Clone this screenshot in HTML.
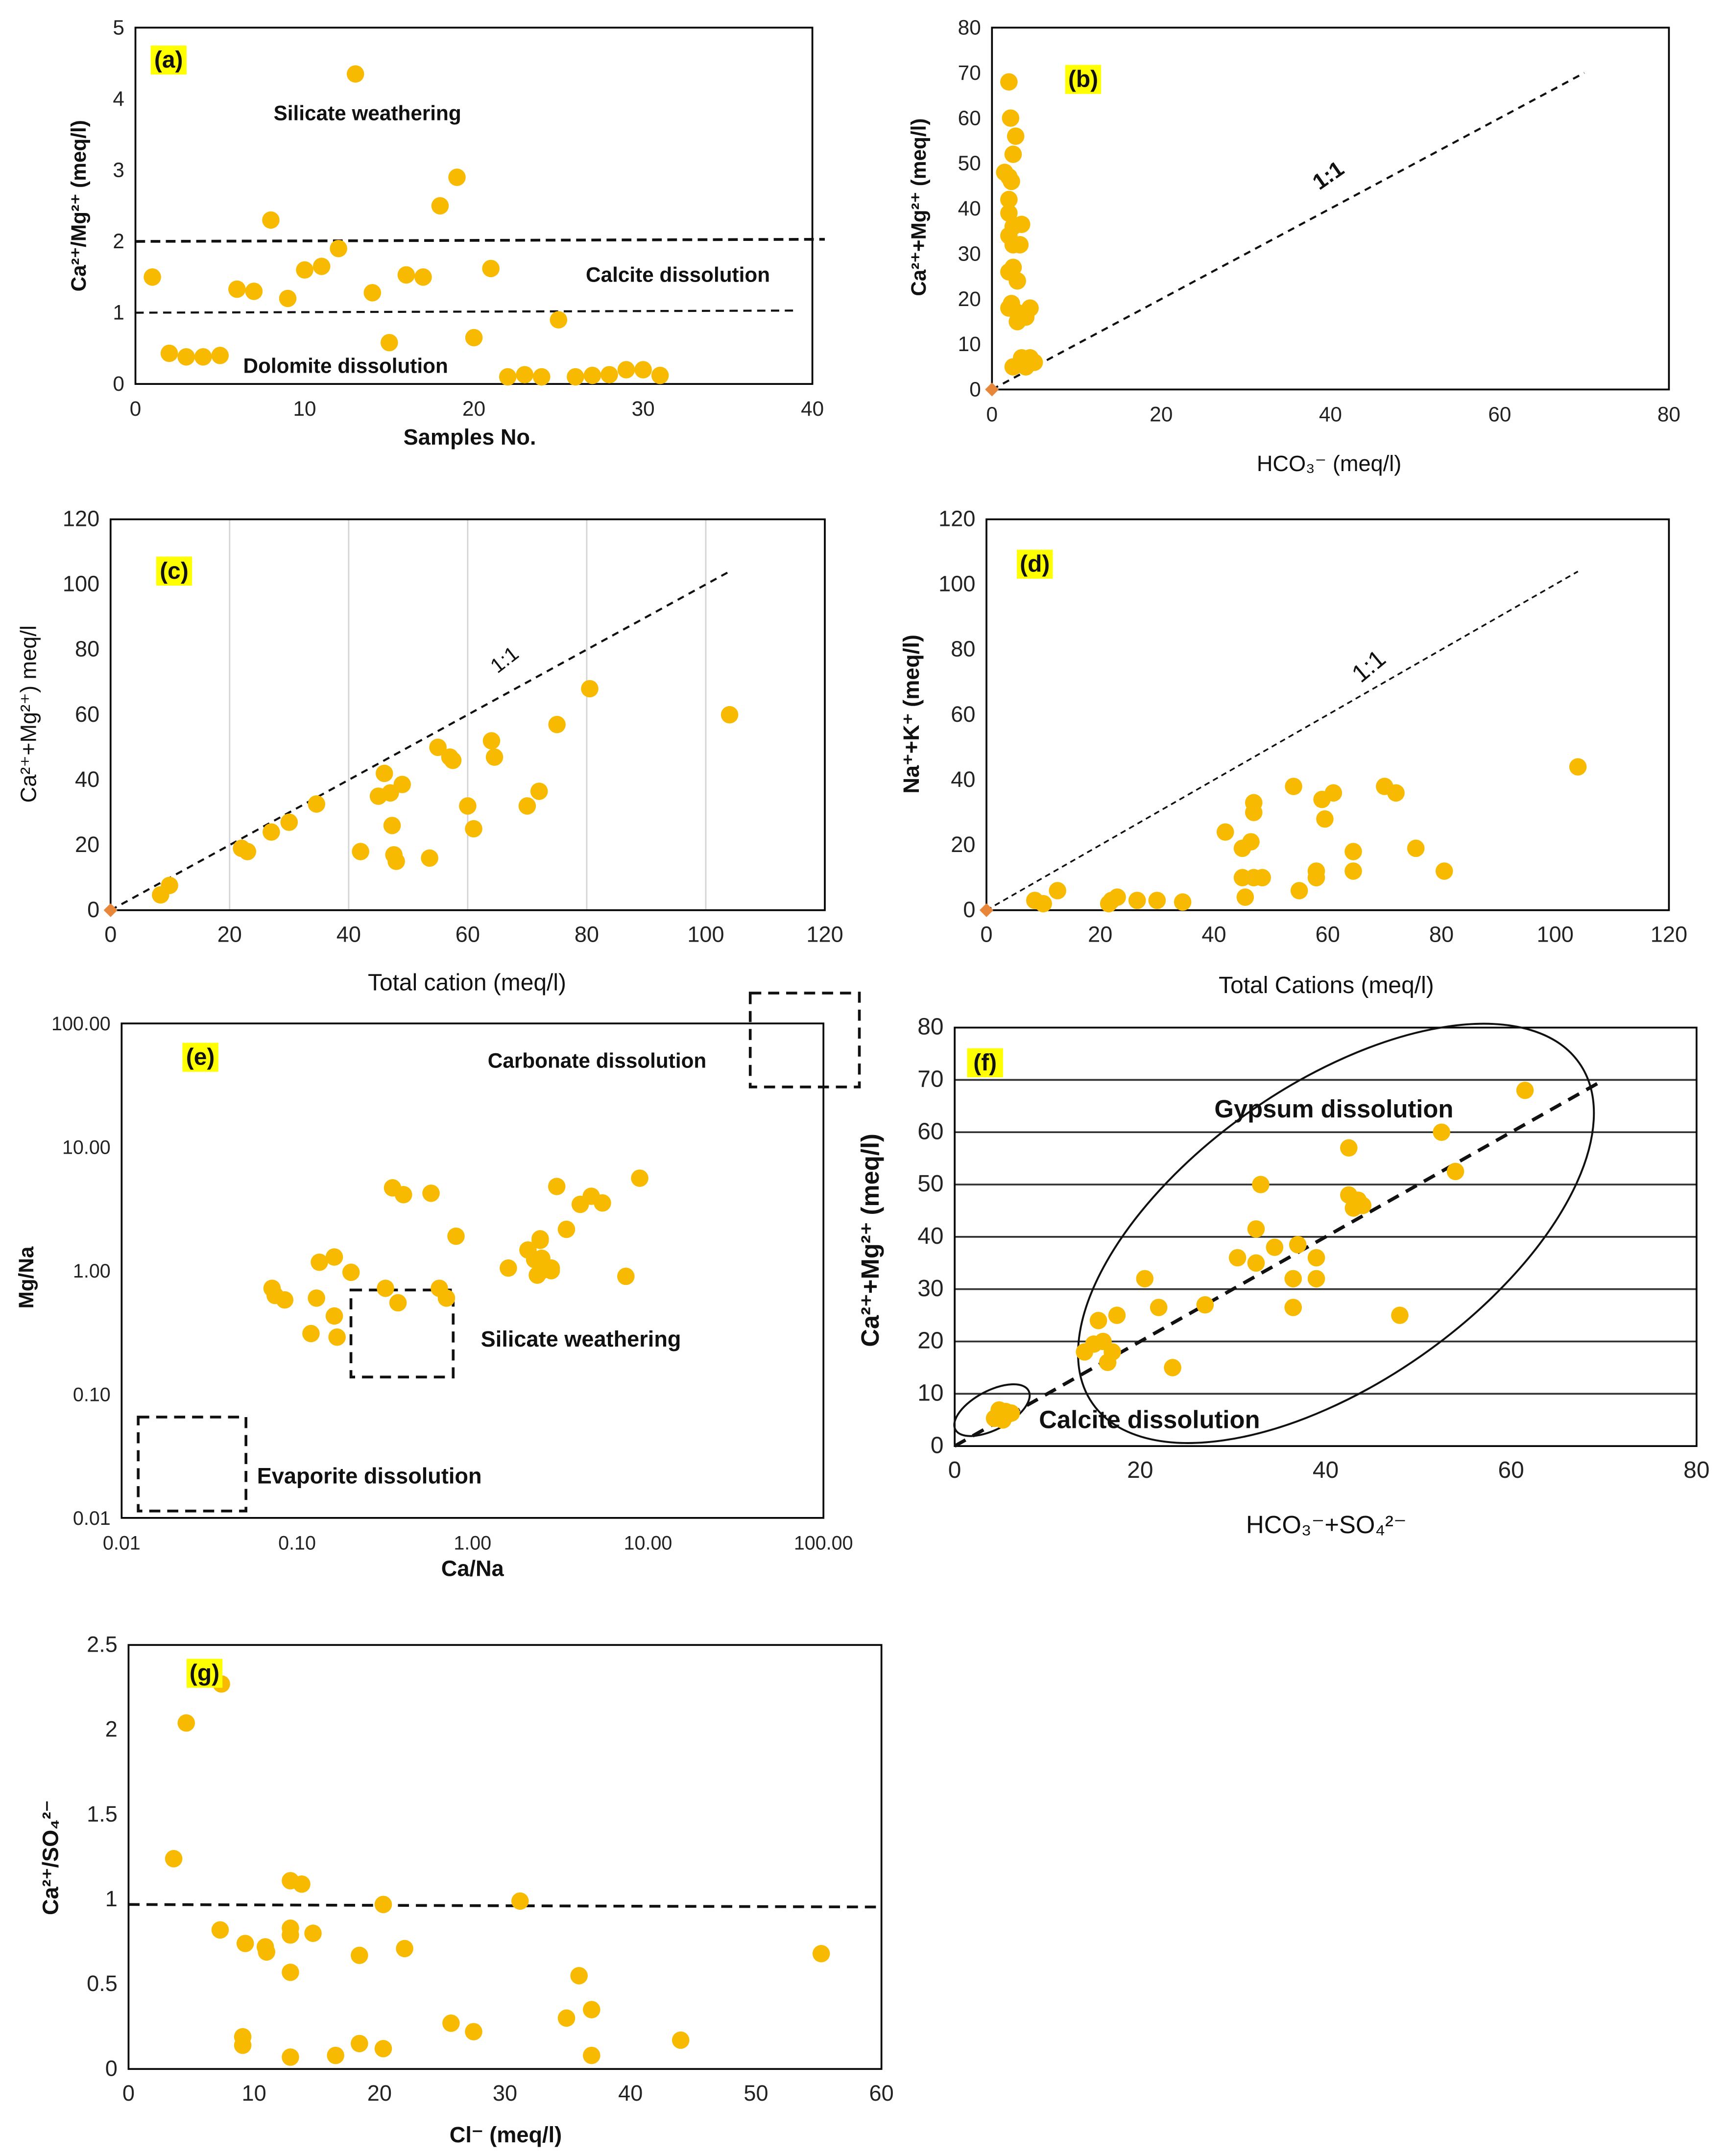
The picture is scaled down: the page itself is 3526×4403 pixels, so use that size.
<!DOCTYPE html>
<html><head><meta charset="utf-8"><style>
html,body{margin:0;padding:0;background:#fff;}
svg{display:block;font-family:"Liberation Sans",sans-serif;}
</style></head><body>
<svg id="fig" xmlns="http://www.w3.org/2000/svg" width="3526" height="4403" viewBox="0 0 1250 1561">
<rect x="0" y="0" width="1250" height="1561" fill="#fff"/>
</svg>
<script>
// ---------- data ----------
const aSamples=[1,2,3,4,5,6,7,8,9,10,11,12,13,14,15,16,17,18,19,20,21,22,23,24,25,26,27,28,29,30,31];
const aRatio=[1.5,0.43,0.38,0.38,0.4,1.33,1.3,2.3,1.2,1.6,1.65,1.9,4.35,1.28,0.58,1.53,1.5,2.5,2.9,0.65,1.62,0.1,0.13,0.1,0.9,0.1,0.12,0.13,0.2,0.2,0.12];
const aXTicks=[0,10,20,30,40];
const aYTicks=[0,1,2,3,4,5];

const bHCO3=[2,2.2,2.8,2.5,1.5,2,2.3,2,2,2.5,3.5,2,2.5,3.3,2.5,2,3,2.3,2,3,4,4.5,3,4,3.5,4.5,5,4,2.5];
const bCaMg=[68,60,56,52,48,47,46,42,39,36,36.5,34,32,32,27,26,24,19,18,17,17,18,15,16,7,7,6,5,5];
const bXTicks=[0,20,40,60,80];
const bYTicks=[0,10,20,30,40,50,60,70,80];

const cTotal=[8.4,9.9,22,23,27,30,34.6,42,45,46,47,47.3,47.6,48,49,53.6,55,57,57.5,60,61,64,64.5,70,72,75,80.5,104];
const cCaMg=[4.7,7.6,19,18,24,27,32.6,18,35,42,36,26,17,15,38.6,16,50,47,46,32,25,52,47,32,36.5,57,68,60];
const cdXTicks=[0,20,40,60,80,100,120];
const cdYTicks=[0,20,40,60,80,100,120];

const dTotal=[8.5,10,12.5,21.5,22,23,26.5,30,34.5,42,45,45,45.5,46.5,47,47,47,48.5,54,55,58,58,59,59.5,61,64.5,64.5,70,72,75.5,80.5,104];
const dNaK=[3,2,6,2,3,4,3,3,2.5,24,19,10,4,21,30,33,10,10,38,6,10,12,34,28,36,18,12,38,36,19,12,44];

const eCaNa=[0.072,0.075,0.085,0.129,0.134,0.163,0.203,0.163,0.169,0.12,0.319,0.35,0.404,0.58,0.647,0.376,0.71,0.805,1.6,2.07,2.26,2.43,2.48,2.34,2.43,2.81,2.48,2.81,3.02,3.43,4.11,4.75,5.5,7.48,8.97];
const eMgNa=[0.72,0.63,0.58,0.60,1.17,1.29,0.97,0.43,0.29,0.31,0.72,4.68,4.12,4.23,0.72,0.55,0.60,1.90,1.05,1.47,1.23,1.81,1.26,0.92,1.76,1.05,1.0,1.0,4.8,2.16,3.44,4.0,3.53,0.90,5.6];
const eTicks=[0.01,0.1,1,10,100];
const eTickLabels=["0.01","0.10","1.00","10.00","100.00"];

const fAnions=[4.3,4.8,5.5,6.1,5.2,14,15,16,15.5,17,16.5,17.5,20.5,22,23.5,27,30.5,32.5,32.5,33,34.5,36.5,36.5,37,39,39,42.5,42.5,43,43.5,44,48,52.5,54,61.5];
const fCaMg=[5.3,6.9,6.6,6.3,5,18,19.5,20,24,18,16,25,32,26.5,15,27,36,35,41.5,50,38,26.5,32,38.5,36,32,57,48,45.5,47,46,25,60,52.5,68];
const fXTicks=[0,20,40,60,80];
const fYTicks=[0,10,20,30,40,50,60,70,80];

const gCl=[4.6,7.4,3.6,7.3,9.3,10.9,11,12.9,13.8,12.9,12.9,12.9,14.7,18.4,20.3,22,9.1,9.1,12.9,16.5,18.4,20.3,25.7,27.5,31.2,34.9,35.9,36.9,36.9,44,55.2];
const gRatio=[2.04,2.27,1.24,0.82,0.74,0.72,0.69,1.11,1.09,0.83,0.79,0.57,0.80,0.67,0.97,0.71,0.19,0.14,0.07,0.08,0.15,0.12,0.27,0.22,0.99,0.30,0.55,0.35,0.08,0.17,0.68];
const gXTicks=[0,10,20,30,40,50,60];
const gYTicks=[0,0.5,1,1.5,2,2.5];
const gYTickLabels=["0","0.5","1","1.5","2","2.5"];

// ---------- helpers ----------
const NS='http://www.w3.org/2000/svg';
const svg=document.getElementById('fig');
const DOT='#F8BA00';
function mk(tag,attrs,parent){const e=document.createElementNS(NS,tag);for(const k in attrs)e.setAttribute(k,attrs[k]);(parent||svg).appendChild(e);return e;}
function lin(d0,d1,r0,r1){return v=>r0+(v-d0)/(d1-d0)*(r1-r0);}
function logs(d0,d1,r0,r1){return v=>r0+(Math.log10(v)-Math.log10(d0))/(Math.log10(d1)-Math.log10(d0))*(r1-r0);}

function panel(id,x0,x1,yb,yt){
  const g=mk('g',{});
  
  
  return g;
}
function frame(g,x0,x1,yb,yt){
  const r=mk('rect',{x:x0,y:yt,width:x1-x0,height:yb-yt,fill:'none',stroke:'#000','stroke-width':1.3},g);
  
  
}
function xTicks(g,ticks,labels,sx,yb,fs){
  ticks.forEach((t,i)=>{
    const tx=mk('text',{x:sx(t),y:yb+23,'text-anchor':'middle','font-size':fs||15,fill:'#222'},g);
    tx.textContent=labels?labels[i]:String(t);
    
    
  });
}
function yTicks(g,ticks,labels,sy,x0,fs){
  ticks.forEach((t,i)=>{
    const tx=mk('text',{x:x0-8,y:sy(t)+5,'text-anchor':'end','font-size':fs||15,fill:'#222'},g);
    tx.textContent=labels?labels[i]:String(t);
    
    
  });
}
function dots(g,xs,ys,sx,sy){
  xs.forEach((v,i)=>{
    const c=mk('circle',{cx:sx(v),cy:sy(ys[i]),r:6.3,fill:DOT},g);
    
    
  });
}
function txt(g,x,y,s,fs,extra,name){
  const t=mk('text',Object.assign({x:x,y:y,'font-size':fs,fill:'#111'},extra||{}),g);
  t.textContent=s;
  
  
  return t;
}
function ytitle(g,x,cy,s,fs,bold){
  const t=mk('text',{x:0,y:0,'font-size':fs,'text-anchor':'middle',fill:'#111','font-weight':bold?'bold':'normal',transform:`translate(${x},${cy}) rotate(-90)`},g);
  t.textContent=s;
  
  
}
function xtitle(g,x,y,s,fs,bold){
  const t=mk('text',{x:x,y:y,'font-size':fs,'text-anchor':'middle',fill:'#111','font-weight':bold?'bold':'normal'},g);
  t.textContent=s;
  
  
}
function tag(g,x,y,s){
  const r=mk('rect',{x:x-13,y:y-15,width:26,height:21,fill:'#FFFF00'},g);
  
  
  txt(g,x,y+1,s,17,{'text-anchor':'middle','font-weight':'bold'},'panel-tag');
}
function dline(g,x1,y1,x2,y2,w,dash){
  const l=mk('line',{x1:x1,y1:y1,x2:x2,y2:y2,stroke:'#111','stroke-width':w||1.5,'stroke-dasharray':dash||'6,4'},g);
  
  
}
function origin(g,x,y){
  const p=mk('path',{d:`M${x-5},${y} L${x},${y-5} L${x+5},${y} L${x},${y+5}Z`,fill:'#E8863A'},g);
  
  
}

// ---------- panel a ----------
(function(){
  const x0=98,x1=588,yb=278,yt=20;
  const sx=lin(0,40,x0,x1), sy=lin(0,5,yb,yt);
  const g=panel('a');
  frame(g,x0,x1,yb,yt);
  xTicks(g,aXTicks,null,sx,yb);
  yTicks(g,aYTicks,null,sy,x0);
  dline(g,x0,sy(2),597,sy(2.03),2,'7,4');
  dline(g,x0,sy(1),578,sy(1.03),1.5,'6,4');
  dots(g,aSamples,aRatio,sx,sy);
  txt(g,198,87,'Silicate weathering',15,{'font-weight':'bold'},'annotation-silicate');
  txt(g,424,204,'Calcite dissolution',15,{'font-weight':'bold'},'annotation-calcite');
  txt(g,176,270,'Dolomite dissolution',15,{'font-weight':'bold'},'annotation-dolomite');
  tag(g,122,48,'(a)');
  ytitle(g,62,149,'Ca²⁺/Mg²⁺ (meq/l)',15,true);
  xtitle(g,340,322,'Samples No.',16,true);
})();

// ---------- panel b ----------
(function(){
  const x0=718,x1=1208,yb=282,yt=20;
  const sx=lin(0,80,x0,x1), sy=lin(0,80,yb,yt);
  const g=panel('b');
  frame(g,x0,x1,yb,yt);
  xTicks(g,bXTicks,null,sx,yb);
  yTicks(g,bYTicks,null,sy,x0);
  dline(g,sx(0),sy(0),sx(70),sy(70),1.5,'5,4');
  dots(g,bHCO3,bCaMg,sx,sy);
  origin(g,sx(0),sy(0));
  txt(g,0,0,'1:1',16,{'font-weight':'bold',transform:'translate(955,138) rotate(-35)'},'one-to-one-label');
  tag(g,784,62,'(b)');
  ytitle(g,670,150,'Ca²⁺+Mg²⁺ (meq/l)',15,true);
  xtitle(g,962,341,'HCO₃⁻ (meq/l)',16,false);
})();

// ---------- panel c ----------
(function(){
  const x0=80,x1=597,yb=659,yt=376;
  const sx=lin(0,120,x0,x1), sy=lin(0,120,yb,yt);
  const g=panel('c');
  cdXTicks.slice(1,-1).forEach(t=>{const l=mk('line',{x1:sx(t),y1:yt,x2:sx(t),y2:yb,stroke:'#d4d4d4','stroke-width':1},g);});
  frame(g,x0,x1,yb,yt);
  xTicks(g,cdXTicks,null,sx,yb,16);
  yTicks(g,cdYTicks,null,sy,x0,16);
  dline(g,sx(0),sy(0),sx(104),sy(104),1.5,'5,4');
  dots(g,cTotal,cCaMg,sx,sy);
  origin(g,sx(0),sy(0));
  txt(g,0,0,'1:1',15,{transform:'translate(360,488) rotate(-38)'},'one-to-one-label');
  tag(g,126,418,'(c)');
  ytitle(g,26,517,'Ca²⁺+Mg²⁺) meq/l',16,false);
  xtitle(g,338,717,'Total cation (meq/l)',17,false);
})();

// ---------- panel d ----------
(function(){
  const x0=714,x1=1208,yb=659,yt=376;
  const sx=lin(0,120,x0,x1), sy=lin(0,120,yb,yt);
  const g=panel('d');
  frame(g,x0,x1,yb,yt);
  xTicks(g,cdXTicks,null,sx,yb,16);
  yTicks(g,cdYTicks,null,sy,x0,16);
  dline(g,sx(0),sy(0),sx(104),sy(104),1.2,'4,3');
  dots(g,dTotal,dNaK,sx,sy);
  origin(g,sx(0),sy(0));
  txt(g,0,0,'1:1',18,{transform:'translate(985,495) rotate(-40)'},'one-to-one-label');
  tag(g,749,413,'(d)');
  ytitle(g,665,517,'Na⁺+K⁺ (meq/l)',16,true);
  xtitle(g,960,719,'Total Cations (meq/l)',17,false);
})();

// ---------- panel e ----------
(function(){
  const x0=88,x1=596,yb=1099,yt=741;
  const sx=logs(0.01,100,x0,x1), sy=logs(0.01,100,yb,yt);
  const g=panel('e');
  frame(g,x0,x1,yb,yt);
  xTicks(g,eTicks,eTickLabels,sx,yb,14);
  yTicks(g,eTicks,eTickLabels,sy,x0,14);
  [[254,934,74,63],[100,1026,78,68],[543,719,79,68]].forEach(b=>{
    const r=mk('rect',{x:b[0],y:b[1],width:b[2],height:b[3],fill:'none',stroke:'#111','stroke-width':2,'stroke-dasharray':'8,5'},g);
    
    
  });
  dots(g,eCaNa,eMgNa,sx,sy);
  txt(g,353,773,'Carbonate dissolution',15,{'font-weight':'bold'},'annotation-carbonate');
  txt(g,348,975,'Silicate weathering',16,{'font-weight':'bold'},'annotation-silicate');
  txt(g,186,1074,'Evaporite dissolution',16,{'font-weight':'bold'},'annotation-evaporite');
  tag(g,145,770,'(e)');
  ytitle(g,24,925,'Mg/Na',15,true);
  xtitle(g,342,1141,'Ca/Na',16,true);
})();

// ---------- panel f ----------
(function(){
  const x0=691,x1=1228,yb=1047,yt=744;
  const sx=lin(0,80,x0,x1), sy=lin(0,80,yb,yt);
  const g=panel('f');
  fYTicks.slice(1,-1).forEach(t=>{const l=mk('line',{x1:x0,y1:sy(t),x2:x1,y2:sy(t),stroke:'#333','stroke-width':1.3},g);});
  frame(g,x0,x1,yb,yt);
  xTicks(g,fXTicks,null,sx,yb,17);
  yTicks(g,fYTicks,null,sy,x0,17);
  const e1=mk('ellipse',{cx:967,cy:893,rx:215,ry:108,fill:'none',stroke:'#111','stroke-width':1.4,transform:'rotate(-35 967 893)'},g);
  
  
  const e2=mk('ellipse',{cx:718,cy:1021,rx:30,ry:14,fill:'none',stroke:'#111','stroke-width':1.4,transform:'rotate(-28 718 1021)'},g);
  
  
  dline(g,sx(0),sy(0),sx(70),sy(70),2.5,'9,6');
  dots(g,fAnions,fCaMg,sx,sy);
  txt(g,879,809,'Gypsum dissolution',18,{'font-weight':'bold'},'annotation-gypsum');
  txt(g,752,1034,'Calcite  dissolution',18,{'font-weight':'bold'},'annotation-calcite');
  tag(g,713,774,'(f)');
  ytitle(g,636,898,'Ca²⁺+Mg²⁺ (meq/l)',18,true);
  xtitle(g,960,1110,'HCO₃⁻+SO₄²⁻',18,false);
})();

// ---------- panel g ----------
(function(){
  const x0=93,x1=638,yb=1498,yt=1191;
  const sx=lin(0,60,x0,x1), sy=lin(0,2.5,yb,yt);
  const g=panel('g');
  frame(g,x0,x1,yb,yt);
  xTicks(g,gXTicks,null,sx,yb,16);
  yTicks(g,gYTicks,gYTickLabels,sy,x0,16);
  dline(g,x0,sy(0.97),x1,sy(0.955),2,'8,5');
  dots(g,gCl,gRatio,sx,sy);
  tag(g,148,1216,'(g)');
  ytitle(g,42,1345,'Ca²⁺/SO₄²⁻',16,true);
  xtitle(g,366,1551,'Cl⁻ (meq/l)',16,true);
})();
</script>
</body></html>
